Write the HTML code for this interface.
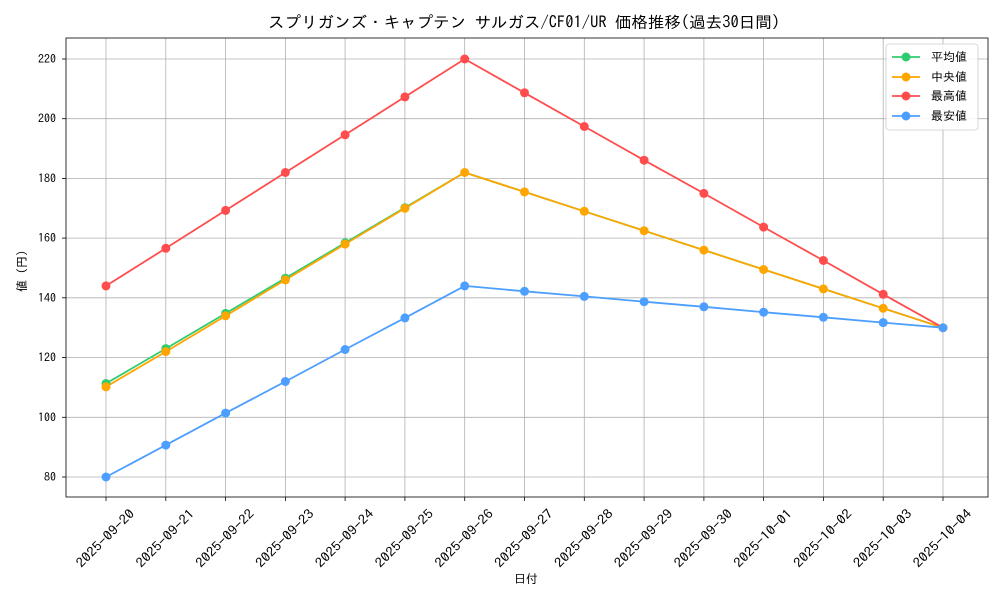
<!DOCTYPE html>
<html><head><meta charset="utf-8"><style>
html,body{margin:0;padding:0;background:#fff}
svg text{font-family:"IPAGothic","Noto Sans CJK JP",monospace;fill:#000}
</style></head><body>
<svg width="1000" height="600" viewBox="0 0 1000 600" xmlns="http://www.w3.org/2000/svg">
<rect width="1000" height="600" fill="#fff"/>
<g stroke="#b0b0b0" stroke-width="0.8">
<line x1="106" y1="38" x2="106" y2="497"/><line x1="165.8" y1="38" x2="165.8" y2="497"/><line x1="225.6" y1="38" x2="225.6" y2="497"/><line x1="285.4" y1="38" x2="285.4" y2="497"/><line x1="345.1" y1="38" x2="345.1" y2="497"/><line x1="404.9" y1="38" x2="404.9" y2="497"/><line x1="464.7" y1="38" x2="464.7" y2="497"/><line x1="524.5" y1="38" x2="524.5" y2="497"/><line x1="584.3" y1="38" x2="584.3" y2="497"/><line x1="644.1" y1="38" x2="644.1" y2="497"/><line x1="703.9" y1="38" x2="703.9" y2="497"/><line x1="763.6" y1="38" x2="763.6" y2="497"/><line x1="823.4" y1="38" x2="823.4" y2="497"/><line x1="883.2" y1="38" x2="883.2" y2="497"/><line x1="943" y1="38" x2="943" y2="497"/>
<line x1="66" y1="477" x2="988" y2="477"/><line x1="66" y1="417.3" x2="988" y2="417.3"/><line x1="66" y1="357.6" x2="988" y2="357.6"/><line x1="66" y1="297.8" x2="988" y2="297.8"/><line x1="66" y1="238.1" x2="988" y2="238.1"/><line x1="66" y1="178.4" x2="988" y2="178.4"/><line x1="66" y1="118.7" x2="988" y2="118.7"/><line x1="66" y1="59" x2="988" y2="59"/>
</g>
<rect x="66" y="38" width="922" height="459" fill="none" stroke="#000" stroke-width="0.8"/>
<g stroke="#000" stroke-width="0.8">
<line x1="62" y1="477" x2="66" y2="477"/><line x1="62" y1="417.3" x2="66" y2="417.3"/><line x1="62" y1="357.6" x2="66" y2="357.6"/><line x1="62" y1="297.8" x2="66" y2="297.8"/><line x1="62" y1="238.1" x2="66" y2="238.1"/><line x1="62" y1="178.4" x2="66" y2="178.4"/><line x1="62" y1="118.7" x2="66" y2="118.7"/><line x1="62" y1="59" x2="66" y2="59"/>
<line x1="106" y1="497" x2="106" y2="501"/><line x1="165.8" y1="497" x2="165.8" y2="501"/><line x1="225.6" y1="497" x2="225.6" y2="501"/><line x1="285.4" y1="497" x2="285.4" y2="501"/><line x1="345.1" y1="497" x2="345.1" y2="501"/><line x1="404.9" y1="497" x2="404.9" y2="501"/><line x1="464.7" y1="497" x2="464.7" y2="501"/><line x1="524.5" y1="497" x2="524.5" y2="501"/><line x1="584.3" y1="497" x2="584.3" y2="501"/><line x1="644.1" y1="497" x2="644.1" y2="501"/><line x1="703.9" y1="497" x2="703.9" y2="501"/><line x1="763.6" y1="497" x2="763.6" y2="501"/><line x1="823.4" y1="497" x2="823.4" y2="501"/><line x1="883.2" y1="497" x2="883.2" y2="501"/><line x1="943" y1="497" x2="943" y2="501"/>
</g>
<g font-size="12" text-anchor="end">
<text x="56" y="481">80</text><text x="56" y="421.3">100</text><text x="56" y="361.6">120</text><text x="56" y="301.8">140</text><text x="56" y="242.1">160</text><text x="56" y="182.4">180</text><text x="56" y="122.7">200</text><text x="56" y="63">220</text>
</g>
<g font-size="13" text-anchor="middle">
<text transform="translate(105,538) rotate(-45)" y="5" textLength="76" lengthAdjust="spacingAndGlyphs">2025-09-20</text>
<text transform="translate(164.8,538) rotate(-45)" y="5" textLength="76" lengthAdjust="spacingAndGlyphs">2025-09-21</text>
<text transform="translate(224.6,538) rotate(-45)" y="5" textLength="76" lengthAdjust="spacingAndGlyphs">2025-09-22</text>
<text transform="translate(284.4,538) rotate(-45)" y="5" textLength="76" lengthAdjust="spacingAndGlyphs">2025-09-23</text>
<text transform="translate(344.1,538) rotate(-45)" y="5" textLength="76" lengthAdjust="spacingAndGlyphs">2025-09-24</text>
<text transform="translate(403.9,538) rotate(-45)" y="5" textLength="76" lengthAdjust="spacingAndGlyphs">2025-09-25</text>
<text transform="translate(463.7,538) rotate(-45)" y="5" textLength="76" lengthAdjust="spacingAndGlyphs">2025-09-26</text>
<text transform="translate(523.5,538) rotate(-45)" y="5" textLength="76" lengthAdjust="spacingAndGlyphs">2025-09-27</text>
<text transform="translate(583.3,538) rotate(-45)" y="5" textLength="76" lengthAdjust="spacingAndGlyphs">2025-09-28</text>
<text transform="translate(643.1,538) rotate(-45)" y="5" textLength="76" lengthAdjust="spacingAndGlyphs">2025-09-29</text>
<text transform="translate(702.9,538) rotate(-45)" y="5" textLength="76" lengthAdjust="spacingAndGlyphs">2025-09-30</text>
<text transform="translate(762.6,538) rotate(-45)" y="5" textLength="76" lengthAdjust="spacingAndGlyphs">2025-10-01</text>
<text transform="translate(822.4,538) rotate(-45)" y="5" textLength="76" lengthAdjust="spacingAndGlyphs">2025-10-02</text>
<text transform="translate(882.2,538) rotate(-45)" y="5" textLength="76" lengthAdjust="spacingAndGlyphs">2025-10-03</text>
<text transform="translate(942,538) rotate(-45)" y="5" textLength="76" lengthAdjust="spacingAndGlyphs">2025-10-04</text>
</g>
<text x="526" y="583" font-size="12" text-anchor="middle">日付</text>
<text transform="translate(26,268) rotate(-90)" font-size="12" text-anchor="middle">値（円）</text>
<text x="524" y="28" font-size="16" text-anchor="middle" textLength="512" lengthAdjust="spacingAndGlyphs">スプリガンズ・キャプテン サルガス/CF01/UR 価格推移(過去30日間)</text>
<g fill="none" stroke-width="1.8">
<polyline stroke="#2ecc71" points="106,383.5 165.8,348.6 225.6,313.4 285.4,278.2 345.1,242.9 404.9,207.7 464.7,172.5 524.5,191.9 584.3,211.3 644.1,230.7 703.9,250.1 763.6,269.5 823.4,288.9 883.2,308.3 943,327.7"/>
<polyline stroke="#ffa500" points="106,386.8 165.8,351.6 225.6,315.8 285.4,279.9 345.1,244.1 404.9,208.3 464.7,172.5 524.5,191.9 584.3,211.3 644.1,230.7 703.9,250.1 763.6,269.5 823.4,288.9 883.2,308.3 943,327.7"/>
<polyline stroke="#ff4d4d" points="106,285.9 165.8,248.3 225.6,210.4 285.4,172.5 345.1,134.8 404.9,96.9 464.7,59 524.5,92.8 584.3,126.5 644.1,160.2 703.9,193.4 763.6,227.1 823.4,260.5 883.2,294.3 943,327.7"/>
<polyline stroke="#4d9fff" points="106,477 165.8,445.1 225.6,413.1 285.4,381.5 345.1,349.5 404.9,317.9 464.7,285.9 524.5,291.3 584.3,296.4 644.1,301.7 703.9,306.8 763.6,312.2 823.4,317.3 883.2,322.6 943,327.7"/>
</g>
<g fill="#2ecc71"><circle cx="106" cy="383.5" r="4.5"/><circle cx="165.8" cy="348.6" r="4.5"/><circle cx="225.6" cy="313.4" r="4.5"/><circle cx="285.4" cy="278.2" r="4.5"/><circle cx="345.1" cy="242.9" r="4.5"/><circle cx="404.9" cy="207.7" r="4.5"/></g>
<g fill="#ffa500"><circle cx="106" cy="386.8" r="4.5"/><circle cx="165.8" cy="351.6" r="4.5"/><circle cx="225.6" cy="315.8" r="4.5"/><circle cx="285.4" cy="279.9" r="4.5"/><circle cx="345.1" cy="244.1" r="4.5"/><circle cx="404.9" cy="208.3" r="4.5"/><circle cx="464.7" cy="172.5" r="4.5"/><circle cx="524.5" cy="191.9" r="4.5"/><circle cx="584.3" cy="211.3" r="4.5"/><circle cx="644.1" cy="230.7" r="4.5"/><circle cx="703.9" cy="250.1" r="4.5"/><circle cx="763.6" cy="269.5" r="4.5"/><circle cx="823.4" cy="288.9" r="4.5"/><circle cx="883.2" cy="308.3" r="4.5"/><circle cx="943" cy="327.7" r="4.5"/></g>
<g fill="#ff4d4d"><circle cx="106" cy="285.9" r="4.5"/><circle cx="165.8" cy="248.3" r="4.5"/><circle cx="225.6" cy="210.4" r="4.5"/><circle cx="285.4" cy="172.5" r="4.5"/><circle cx="345.1" cy="134.8" r="4.5"/><circle cx="404.9" cy="96.9" r="4.5"/><circle cx="464.7" cy="59" r="4.5"/><circle cx="524.5" cy="92.8" r="4.5"/><circle cx="584.3" cy="126.5" r="4.5"/><circle cx="644.1" cy="160.2" r="4.5"/><circle cx="703.9" cy="193.4" r="4.5"/><circle cx="763.6" cy="227.1" r="4.5"/><circle cx="823.4" cy="260.5" r="4.5"/><circle cx="883.2" cy="294.3" r="4.5"/></g>
<g fill="#4d9fff"><circle cx="106" cy="477" r="4.5"/><circle cx="165.8" cy="445.1" r="4.5"/><circle cx="225.6" cy="413.1" r="4.5"/><circle cx="285.4" cy="381.5" r="4.5"/><circle cx="345.1" cy="349.5" r="4.5"/><circle cx="404.9" cy="317.9" r="4.5"/><circle cx="464.7" cy="285.9" r="4.5"/><circle cx="524.5" cy="291.3" r="4.5"/><circle cx="584.3" cy="296.4" r="4.5"/><circle cx="644.1" cy="301.7" r="4.5"/><circle cx="703.9" cy="306.8" r="4.5"/><circle cx="763.6" cy="312.2" r="4.5"/><circle cx="823.4" cy="317.3" r="4.5"/><circle cx="883.2" cy="322.6" r="4.5"/><circle cx="943" cy="327.7" r="4.5"/></g>
<rect x="886" y="44" width="92" height="86" rx="3" fill="#fff" fill-opacity="0.85" stroke="#ccc" stroke-width="0.8"/>
<g stroke-width="1.8">
<line x1="892" y1="57" x2="920" y2="57" stroke="#2ecc71"/><circle cx="906" cy="57" r="4.5" fill="#2ecc71"/>
<line x1="892" y1="77" x2="920" y2="77" stroke="#ffa500"/><circle cx="906" cy="77" r="4.5" fill="#ffa500"/>
<line x1="892" y1="96" x2="920" y2="96" stroke="#ff4d4d"/><circle cx="906" cy="96" r="4.5" fill="#ff4d4d"/>
<line x1="892" y1="116" x2="920" y2="116" stroke="#4d9fff"/><circle cx="906" cy="116" r="4.5" fill="#4d9fff"/>
</g>
<g font-size="12">
<text x="931" y="61">平均値</text><text x="931" y="81">中央値</text><text x="931" y="100">最高値</text><text x="931" y="120">最安値</text>
</g>
</svg>
</body></html>
